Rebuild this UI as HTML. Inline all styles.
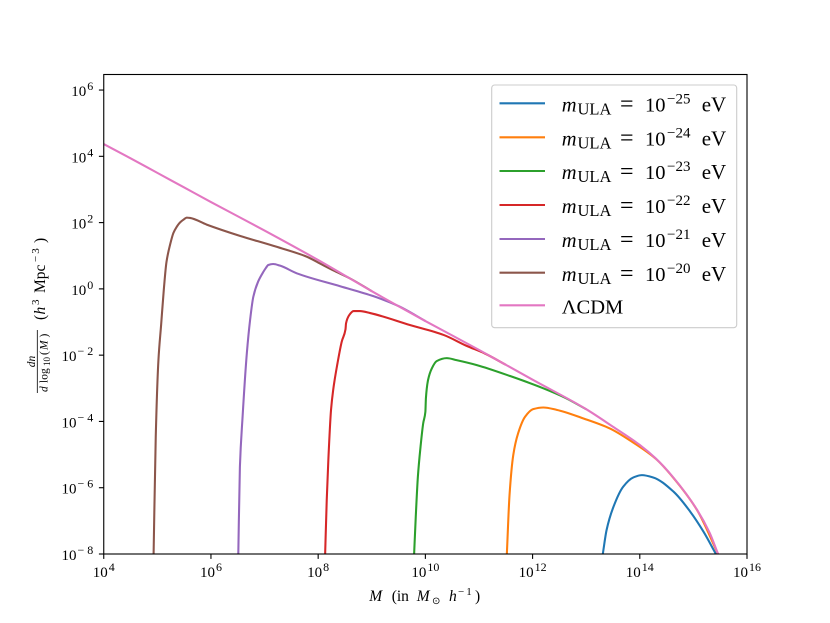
<!DOCTYPE html>
<html lang="en">
<head>
<meta charset="utf-8">
<title>Halo mass function</title>
<style>
html,body{margin:0;padding:0;background:#fff;width:830px;height:623px;overflow:hidden}
svg{display:block}
text{font-family:"Liberation Serif","DejaVu Serif",serif;fill:#000}
.it{font-style:italic}
</style>
</head>
<body>
<svg id="chart" xmlns="http://www.w3.org/2000/svg" width="830" height="623" viewBox="0 0 830 623">
  <defs><clipPath id="plot-clip"><rect x="103.75" y="74.5" width="643.25" height="479.5"/></clipPath></defs>
  <g id="series-layer" clip-path="url(#plot-clip)"></g>
  <rect x="103.75" y="74.5" width="643.25" height="479.5" fill="none" stroke="#000" stroke-width="1.11"/>
  <g id="x-ticks"></g>
  <g id="y-ticks"></g>

  <text y="601" font-size="15.5"><tspan class="it" x="369.3">M</tspan><tspan x="391.7">(in</tspan><tspan class="it" x="416.7">M</tspan><tspan x="432" dy="3" font-size="10" font-family="DejaVu Sans">⊙</tspan><tspan class="it" x="449" dy="-3">h</tspan><tspan x="458" dy="-6" font-size="11" letter-spacing="2">−1</tspan><tspan x="475" dy="6">)</tspan></text>

  <g>
    <g transform="translate(35,361.5) rotate(-90)"><text class="it" font-size="11.5" text-anchor="middle">dn</text></g>
    <line x1="37.3" y1="330" x2="37.3" y2="393" stroke="#000" stroke-width="0.8"/>
    <g transform="translate(47.5,393) rotate(-90)"><text font-size="11.5"><tspan class="it" x="1">d</tspan><tspan x="10">log</tspan><tspan x="27" dy="2.5" font-size="9">10</tspan><tspan x="38" dy="-2.5">(</tspan><tspan class="it" x="43">M</tspan><tspan x="55.5">)</tspan></text></g>
    <g transform="translate(45,320) rotate(-90)"><text font-size="15.5"><tspan x="0">(</tspan><tspan class="it" x="5.5">h</tspan><tspan x="15" dy="-6" font-size="11">3</tspan><tspan x="27" dy="6">Mpc</tspan><tspan x="58" dy="-6" font-size="11" letter-spacing="2">−3</tspan><tspan x="77" dy="6">)</tspan></text></g>
  </g>

  <g>
    <rect x="491.7" y="85" width="245" height="242.7" rx="3" ry="3" fill="#fff" fill-opacity="0.8" stroke="#ccc" stroke-width="1.11"/>
    <g>
      <line x1="499.5" x2="545" y1="103.3" y2="103.3" stroke="#1f77b4" stroke-width="2.08"/>
      <text y="111.5" font-size="20.5"><tspan class="it" x="561.7">m</tspan><tspan x="577.5" dy="3" font-size="16.5">ULA</tspan><tspan x="620" dy="-3" font-size="24">=</tspan><tspan x="645">10</tspan><tspan x="667" dy="-8" font-size="15">−25</tspan><tspan x="701.7" dy="8" font-size="21">eV</tspan></text>
    </g>
    <g>
      <line x1="499.5" x2="545" y1="137.3" y2="137.3" stroke="#ff7f0e" stroke-width="2.08"/>
      <text y="145.5" font-size="20.5"><tspan class="it" x="561.7">m</tspan><tspan x="577.5" dy="3" font-size="16.5">ULA</tspan><tspan x="620" dy="-3" font-size="24">=</tspan><tspan x="645">10</tspan><tspan x="667" dy="-8" font-size="15">−24</tspan><tspan x="701.7" dy="8" font-size="21">eV</tspan></text>
    </g>
    <g>
      <line x1="499.5" x2="545" y1="171" y2="171" stroke="#2ca02c" stroke-width="2.08"/>
      <text y="179.2" font-size="20.5"><tspan class="it" x="561.7">m</tspan><tspan x="577.5" dy="3" font-size="16.5">ULA</tspan><tspan x="620" dy="-3" font-size="24">=</tspan><tspan x="645">10</tspan><tspan x="667" dy="-8" font-size="15">−23</tspan><tspan x="701.7" dy="8" font-size="21">eV</tspan></text>
    </g>
    <g>
      <line x1="499.5" x2="545" y1="205" y2="205" stroke="#d62728" stroke-width="2.08"/>
      <text y="213.2" font-size="20.5"><tspan class="it" x="561.7">m</tspan><tspan x="577.5" dy="3" font-size="16.5">ULA</tspan><tspan x="620" dy="-3" font-size="24">=</tspan><tspan x="645">10</tspan><tspan x="667" dy="-8" font-size="15">−22</tspan><tspan x="701.7" dy="8" font-size="21">eV</tspan></text>
    </g>
    <g>
      <line x1="499.5" x2="545" y1="239" y2="239" stroke="#9467bd" stroke-width="2.08"/>
      <text y="247.2" font-size="20.5"><tspan class="it" x="561.7">m</tspan><tspan x="577.5" dy="3" font-size="16.5">ULA</tspan><tspan x="620" dy="-3" font-size="24">=</tspan><tspan x="645">10</tspan><tspan x="667" dy="-8" font-size="15">−21</tspan><tspan x="701.7" dy="8" font-size="21">eV</tspan></text>
    </g>
    <g>
      <line x1="499.5" x2="545" y1="272.7" y2="272.7" stroke="#8c564b" stroke-width="2.08"/>
      <text y="280.9" font-size="20.5"><tspan class="it" x="561.7">m</tspan><tspan x="577.5" dy="3" font-size="16.5">ULA</tspan><tspan x="620" dy="-3" font-size="24">=</tspan><tspan x="645">10</tspan><tspan x="667" dy="-8" font-size="15">−20</tspan><tspan x="701.7" dy="8" font-size="21">eV</tspan></text>
    </g>
    <g>
      <line x1="499.5" x2="545" y1="305.3" y2="305.3" stroke="#e377c2" stroke-width="2.08"/>
      <text x="561.7" y="313.5" font-size="20.5">ΛCDM</text>
    </g>
  </g>
</svg>
<script>
// Axis tick exponents and labels
const xTickExponents = [4, 6, 8, 10, 12, 14, 16];
const yTickExponents = [6, 4, 2, 0, -2, -4, -6, -8];
const xTickLabels = ['4', '6', '8', '10', '12', '14', '16'];
const yTickLabels = ['6', '4', '2', '0', '−2', '−4', '−6', '−8'];

// Series values: log10(M) and log10(dn/dlog10 M)
const blueLogM = [13.31, 13.38, 13.51, 13.69, 13.88, 14.04, 14.25, 14.63, 14.94, 15.19, 15.42];
const blueLogN = [-8, -7.28, -6.57, -5.97, -5.69, -5.62, -5.69, -6.12, -6.72, -7.33, -8];
const orangeLogM = [11.52, 11.57, 11.64, 11.73, 11.86, 12.01, 12.2, 12.45, 12.95, 13.44, 13.88, 14.3, 14.62, 15.07, 15.46];
const orangeLogN = [-8, -6.22, -5.01, -4.36, -3.86, -3.63, -3.58, -3.65, -3.91, -4.21, -4.64, -5.13, -5.69, -6.68, -8];
const greenLogM = [9.79, 9.82, 9.86, 9.91, 9.96, 10.0, 10.01, 10.05, 10.12, 10.21, 10.4, 10.58, 10.96, 11.58, 12.2, 12.6, 13];
const greenLogN = [-8, -6.9, -5.67, -4.76, -4.05, -3.71, -3.3, -2.75, -2.4, -2.18, -2.09, -2.15, -2.3, -2.63, -3.0, -3.28, -3.63];
const redLogM = [8.13, 8.16, 8.19, 8.24, 8.28, 8.36, 8.44, 8.51, 8.52, 8.58, 8.66, 8.78, 8.97, 9.71, 10.34, 10.77, 11.11, 11.5];
const redLogN = [-8, -6.37, -5.16, -3.65, -3.05, -2.25, -1.59, -1.22, -1.04, -0.79, -0.67, -0.67, -0.73, -1.09, -1.39, -1.72, -1.95, -2.29];
const purpleLogM = [6.51, 6.54, 6.59, 6.67, 6.73, 6.79, 6.88, 6.98, 7.02, 7.07, 7.16, 7.29, 7.6, 8.41, 9.03, 9.5, 10];
const purpleLogN = [-8, -5.37, -3.86, -1.93, -0.94, -0.24, 0.22, 0.52, 0.62, 0.72, 0.75, 0.7, 0.47, 0.08, -0.22, -0.52, -0.97];
const brownLogM = [4.93, 4.97, 5.02, 5.07, 5.12, 5.17, 5.24, 5.3, 5.36, 5.42, 5.48, 5.55, 5.61, 5.92, 6.54, 7.16, 7.79, 8.04, 8.28, 8.6, 9];
const brownLogN = [-8, -4.46, -2.15, -1.09, -0.03, 0.81, 1.35, 1.69, 1.87, 2.0, 2.08, 2.15, 2.14, 1.94, 1.6, 1.3, 0.97, 0.76, 0.56, 0.31, -0.07];
const lcdmLogM = [4, 4.5, 5, 5.5, 6, 7, 8, 9, 10, 11, 12, 13, 13.5, 14, 14.3, 14.62, 15.07, 15.3, 15.46];
const lcdmLogN = [4.37, 3.94, 3.5, 3.06, 2.62, 1.76, 0.87, -0.07, -0.97, -1.84, -2.74, -3.63, -4.16, -4.71, -5.12, -5.68, -6.67, -7.35, -8];

const SVG_NS = 'http://www.w3.org/2000/svg';
const xScale = function (v) { return 103.75 + (v - 4) * (747 - 103.75) / 12; };
const yScale = function (v) { return 554 - (v + 8) * 33.14; };

// Monotone cubic interpolation through the data points
function smoothPath(xs, ys) {
  const px = xs.map(xScale), py = ys.map(yScale), n = px.length;
  const seg = [];
  for (let i = 0; i < n - 1; i++) seg.push((py[i + 1] - py[i]) / (px[i + 1] - px[i]));
  const m = [seg[0]];
  for (let i = 1; i < n - 1; i++) {
    const a = seg[i - 1], b = seg[i];
    if (a * b <= 0) { m.push(0); continue; }
    const h0 = px[i] - px[i - 1], h1 = px[i + 1] - px[i];
    const w0 = 2 * h1 + h0, w1 = h1 + 2 * h0;
    m.push((w0 + w1) / (w0 / a + w1 / b));
  }
  m.push(seg[n - 2]);
  let d = 'M' + px[0].toFixed(2) + ' ' + py[0].toFixed(2);
  for (let i = 0; i < n - 1; i++) {
    const h = (px[i + 1] - px[i]) / 3;
    d += 'C' + (px[i] + h).toFixed(2) + ' ' + (py[i] + m[i] * h).toFixed(2) + ' ' +
         (px[i + 1] - h).toFixed(2) + ' ' + (py[i + 1] - m[i + 1] * h).toFixed(2) + ' ' +
         px[i + 1].toFixed(2) + ' ' + py[i + 1].toFixed(2);
  }
  return d;
}

function drawSeries(name, xs, ys, color) {
  const path = document.createElementNS(SVG_NS, 'path');
  
  
  path.setAttribute('d', smoothPath(xs, ys));
  path.setAttribute('fill', 'none');
  path.setAttribute('stroke', color);
  path.setAttribute('stroke-width', '2.08');
  path.setAttribute('stroke-linejoin', 'round');
  document.getElementById('series-layer').appendChild(path);
}

drawSeries('line-mula-1e-25', blueLogM, blueLogN, '#1f77b4');
drawSeries('line-mula-1e-24', orangeLogM, orangeLogN, '#ff7f0e');
drawSeries('line-mula-1e-23', greenLogM, greenLogN, '#2ca02c');
drawSeries('line-mula-1e-22', redLogM, redLogN, '#d62728');
drawSeries('line-mula-1e-21', purpleLogM, purpleLogN, '#9467bd');
drawSeries('line-mula-1e-20', brownLogM, brownLogN, '#8c564b');
drawSeries('line-lcdm', lcdmLogM, lcdmLogN, '#e377c2');

function makeLabel(exp, x, y, anchor) {
  const negative = exp.charAt(0) === '−';
  const t = document.createElementNS(SVG_NS, 'text');
  
  
  t.setAttribute('x', negative ? x + 3 : x);
  t.setAttribute('y', y);
  t.setAttribute('font-size', '15');
  t.setAttribute('text-anchor', anchor);
  const base = document.createElementNS(SVG_NS, 'tspan');
  base.textContent = '10';
  const sup = document.createElementNS(SVG_NS, 'tspan');
  sup.setAttribute('font-size', '12');
  sup.setAttribute('dy', '-6');
  sup.setAttribute('dx', '1');
  if (negative) sup.setAttribute('letter-spacing', '3');
  sup.textContent = exp;
  t.appendChild(base);
  t.appendChild(sup);
  return t;
}

xTickExponents.forEach(function (v, i) {
  const x = xScale(v);
  const tick = document.createElementNS(SVG_NS, 'line');
  
  
  tick.setAttribute('x1', x);
  tick.setAttribute('x2', x);
  tick.setAttribute('y1', 554);
  tick.setAttribute('y2', 558.9);
  tick.setAttribute('stroke', '#000');
  tick.setAttribute('stroke-width', '1.11');
  const g = document.getElementById('x-ticks');
  g.appendChild(tick);
  g.appendChild(makeLabel(xTickLabels[i], x, 577, 'middle'));
});

yTickExponents.forEach(function (v, i) {
  const y = yScale(v);
  const tick = document.createElementNS(SVG_NS, 'line');
  
  
  tick.setAttribute('x1', 98.9);
  tick.setAttribute('x2', 103.75);
  tick.setAttribute('y1', y);
  tick.setAttribute('y2', y);
  tick.setAttribute('stroke', '#000');
  tick.setAttribute('stroke-width', '1.11');
  const g = document.getElementById('y-ticks');
  g.appendChild(tick);
  g.appendChild(makeLabel(yTickLabels[i], 93.3, y + 6, 'end'));
});
</script>
</body>
</html>
